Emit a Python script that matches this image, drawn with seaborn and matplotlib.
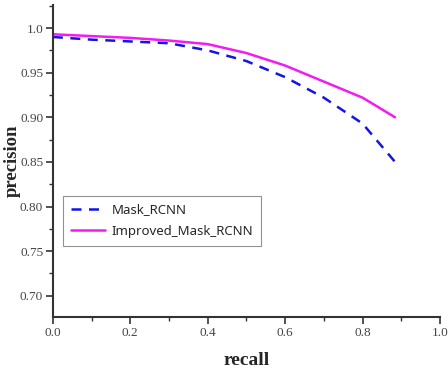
import numpy as np
import pandas as pd
import matplotlib
matplotlib.use("Agg")
import matplotlib.pyplot as plt
import seaborn as sns
from matplotlib.ticker import MultipleLocator

recall = [0.0, 0.1, 0.2, 0.3, 0.4, 0.5, 0.6, 0.7, 0.8, 0.884]
mask_rcnn = [0.990, 0.987, 0.985, 0.983, 0.975, 0.963, 0.945, 0.922, 0.893, 0.850]
improved = [0.993, 0.991, 0.989, 0.986, 0.982, 0.972, 0.958, 0.940, 0.922, 0.900]

sns.set_theme(style="ticks")
plt.rcParams['font.family'] = ['Liberation Serif', 'DejaVu Serif']

df = pd.DataFrame({
    "recall": recall * 2,
    "precision": mask_rcnn + improved,
    "model": ["Mask_RCNN"] * len(recall) + ["Improved_Mask_RCNN"] * len(recall),
})

fig = plt.figure(figsize=(4.48, 3.74), dpi=100)
ax = fig.add_axes([0.118, 0.152, 0.864, 0.835])

sns.lineplot(data=df, x="recall", y="precision", hue="model", style="model",
             palette={"Mask_RCNN": "#1414e6", "Improved_Mask_RCNN": "#f01cf0"},
             dashes={"Mask_RCNN": (4, 3), "Improved_Mask_RCNN": ""},
             linewidth=1.8, ax=ax, legend=True)

ax.set_xlim(0, 1.0)
ax.set_ylim(0.676, 1.026)
ax.xaxis.set_major_locator(MultipleLocator(0.2))
ax.xaxis.set_minor_locator(MultipleLocator(0.1))
ax.yaxis.set_major_locator(MultipleLocator(0.05))
ax.yaxis.set_minor_locator(MultipleLocator(0.025))
ax.xaxis.set_major_formatter(matplotlib.ticker.FormatStrFormatter('%.1f'))
ax.yaxis.set_major_formatter(matplotlib.ticker.FuncFormatter(
    lambda v, p: '1.0' if abs(v - 1.0) < 1e-9 else f'{v:.2f}'))
ax.tick_params(axis='both', which='major', direction='out', length=5, width=1.2,
               labelsize=9.5, colors='#333333', labelcolor='#444444', pad=2)
ax.tick_params(axis='both', which='minor', direction='out', length=3, width=1.0,
               colors='#333333')
for s in ['left', 'bottom']:
    ax.spines[s].set_linewidth(1.5)
    ax.spines[s].set_color('#333333')
sns.despine(ax=ax)

ax.set_xlabel("recall", fontsize=14, fontweight='bold')
ax.set_ylabel("precision", fontsize=13.5, fontweight='bold')
ax.xaxis.set_label_coords(0.5, -0.138)
ax.yaxis.set_label_coords(-0.104, 0.5)
ax.xaxis.label.set_va('center')
ax.yaxis.label.set_va('center')

handles, labels = ax.get_legend_handles_labels()
leg = ax.legend(handles, labels, loc='lower left', bbox_to_anchor=(0.026, 0.228),
                borderaxespad=0, frameon=True, fancybox=False, handlelength=2.6,
                handletextpad=0.5, borderpad=0.6,
                prop={'family': 'Noto Sans', 'size': 9.5}, labelspacing=0.65)
leg.get_frame().set_edgecolor('#777777')
leg.get_frame().set_linewidth(0.8)

fig.savefig("out.png", dpi=100)
